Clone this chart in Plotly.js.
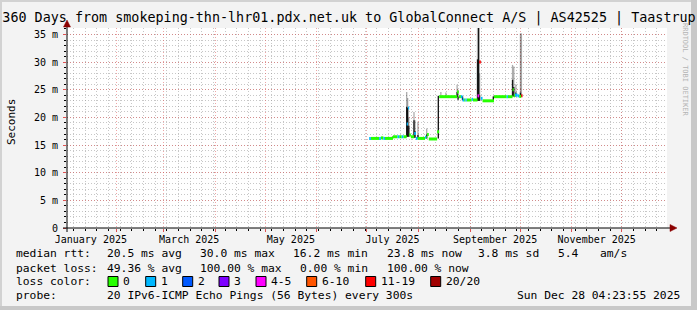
<!DOCTYPE html>
<html>
<head>
<meta charset="utf-8">
<script src="https://cdn.plot.ly/plotly-3.0.1.min.js"></script>
<style>
html,body{margin:0;padding:0;background:#f3f3f3;}
#chart{width:697px;height:310px;}
</style>
</head>
<body>
<div id="chart"></div>
<script>
// ---------------- data ----------------
const titleText = "360 Days from smokeping-thn-lhr01.pdx.net.uk to GlobalConnect A/S | AS42525 | Taastrup";
const rangeStart = "2025-01-02 04:23:55";
const rangeEnd = "2025-12-28 04:23:55";
const monthStarts = ["2025-02-01","2025-03-01","2025-04-01","2025-05-01","2025-06-01","2025-07-01","2025-08-01","2025-09-01","2025-10-01","2025-11-01","2025-12-01"];
const monthLabelDates = ["2025-01-16 12:00","2025-03-16 12:00","2025-05-16 12:00","2025-07-16 12:00","2025-09-16 00:00","2025-11-16 00:00"];
const monthLabels = ["January 2025","March 2025","May 2025","July 2025","September 2025","November 2025"];
const yTickVals = [0,5,10,15,20,25,30,35];
const yTickText = ["0","5 m","10 m","15 m","20 m","25 m","30 m","35 m"];
const yAxisTitle = "Seconds";

// median RTT (ms) and number of lost pings (of 20) per step
const medianDates = ["2025-07-02 12:00","2025-07-03 12:00","2025-07-08 12:00","2025-07-09 12:00","2025-07-11 00:00","2025-07-12 00:00","2025-07-16 18:00","2025-07-19 12:00","2025-07-20 12:00","2025-07-22 00:00","2025-07-23 00:00","2025-07-25 00:00","2025-07-25 18:00","2025-07-26 12:00","2025-07-27 12:00","2025-07-29 12:00","2025-07-30 12:00","2025-07-31 12:00","2025-08-05 00:00","2025-08-05 18:00","2025-08-06 06:00","2025-08-07 06:00","2025-08-12 06:00","2025-08-13 12:00","2025-08-24 06:00","2025-08-25 06:00","2025-08-26 12:00","2025-08-27 12:00","2025-08-28 12:00","2025-08-29 06:00","2025-08-30 00:00","2025-09-02 00:00","2025-09-02 18:00","2025-09-05 12:00","2025-09-06 12:00","2025-09-07 12:00","2025-09-08 12:00","2025-09-15 09:00","2025-09-23 00:00","2025-09-23 18:00","2025-09-26 12:00","2025-09-27 06:00","2025-09-28 00:00","2025-09-29 12:00","2025-09-30 12:00","2025-10-01 18:00","2025-10-02 12:00"];
const medianMs = [16.2,16.2,16.2,16.3,16.2,16.2,16.5,16.5,16.5,16.5,16.5,18.8,21.7,16.8,16.5,17.1,16.2,16.2,16.4,16.4,16.9,16.1,17.4,23.75,24.6,23.75,23.75,23.15,23.15,23.15,23.15,23.3,23.15,23.9,30.0,23.45,23.0,23.75,23.75,23.75,25.0,23.9,24.05,23.9,23.8,23.9,null];
const medianLoss = [1,0,1,0,1,0,0,1,0,1,0,1,1,0,0,1,1,0,1,0,0,0,0,0,0,0,1,1,0,1,0,1,0,4,12,1,0,0,1,0,0,0,1,1,0,12,20];

// smoke: spread of the individual pings (ms)
const smokeDates = ["2025-07-16 12:00","2025-07-25 00:00","2025-07-25 14:00","2025-07-26 06:00","2025-07-29 09:00","2025-07-30 00:00","2025-07-31 18:00","2025-08-06 00:00","2025-08-13 00:00","2025-08-14 12:00","2025-08-17 12:00","2025-08-24 06:00","2025-08-24 20:00","2025-08-27 12:00","2025-09-05 12:00","2025-09-06 04:00","2025-09-06 18:00","2025-09-15 00:00","2025-09-26 12:00","2025-09-27 06:00","2025-09-28 12:00","2025-10-01 06:00","2025-10-01 20:00"];
const smokeLow = [16.2,16.5,16.5,16.5,16.3,16.3,16.2,16.2,16.2,23.7,23.7,23.7,23.2,23.1,23.0,23.0,23.0,23.0,23.8,23.8,23.8,23.8,23.8];
const smokeDarkTop = [16.5,21.9,21.7,18.5,19.5,17.5,16.8,16.9,23.9,23.8,23.8,24.6,23.8,23.8,30.5,36.5,24.0,23.8,26.8,25.5,24.5,24.5,24.0];
const smokeLightTop = [16.6,24.6,23.5,20.0,21.0,19.5,19.2,18.0,23.9,24.6,24.5,25.9,25.0,23.8,36.5,36.5,28.0,23.8,29.5,29.2,26.0,35.2,35.2];

// loss legend
const lossClasses = ["0","1","2","3","4-5","6-10","11-19","20/20"];
const lossColors = ["#26ff00","#00b8ff","#0059ff","#7e00ff","#ff00ff","#ff5500","#ff0000","#a10000"];

// statistics text
const rttStats = ["median rtt:","20.5 ms avg","30.0 ms max","16.2 ms min","23.8 ms now","3.8 ms sd","5.4","am/s"];
const lossStats = ["packet loss:","49.36 % avg","100.00 % max","0.00 % min","100.00 % now"];
const lossColorLabel = "loss color:";
const probeLabel = "probe:";
const probeText = "20 IPv6-ICMP Echo Pings (56 Bytes) every 300s";
const stampText = "Sun Dec 28 04:23:55 2025";
const watermark = "RRDTOOL / TOBI OETIKER";

// ---------------- layout helpers ----------------
const W = 697, H = 310;
const PL = 67, PR = 667, PT = 28, PB = 228;
const px = v => (v - PL) / (PR - PL);
const py = v => (PB - v) / (PB - PT);
const MONO = "DejaVu Sans Mono";
const stepMs = 0.6 * 86400000; // one pixel of time

function lossIndex(n){
  if (n <= 3) return n;
  if (n <= 5) return 4;
  if (n <= 10) return 5;
  if (n <= 19) return 6;
  return 7;
}

const traces = [];
// smoke
traces.push({
  type:'bar', x: smokeDates, base: smokeLow,
  y: smokeLightTop.map((t,i)=>t - smokeLow[i]),
  width: stepMs * 1.3, marker:{color:'rgba(0,0,0,0.33)', line:{width:0}},
  hoverinfo:'skip', showlegend:false
});
traces.push({
  type:'bar', x: smokeDates, base: smokeLow,
  y: smokeDarkTop.map((t,i)=>t - smokeLow[i]),
  width: stepMs * 1.3, marker:{color:'rgba(10,10,10,0.92)', line:{width:0}},
  hoverinfo:'skip', showlegend:false
});
// median segments, coloured by loss
for (let c = 0; c < lossColors.length; c++){
  const xs = [], ys = [];
  for (let i = 0; i < medianDates.length - 1; i++){
    if (medianMs[i] == null) continue;
    if (lossIndex(medianLoss[i]) !== c) continue;
    xs.push(medianDates[i], medianDates[i+1], null);
    ys.push(medianMs[i], medianMs[i], null);
  }
  if (!xs.length) continue;
  traces.push({type:'scatter', mode:'lines', x:xs, y:ys, connectgaps:false,
    line:{color:lossColors[c], width:3}, hoverinfo:'skip', showlegend:false});
}
// carrier for month labels axis
traces.push({type:'scatter', mode:'markers', x: monthLabelDates, y: monthLabelDates.map(()=>null),
  xaxis:'x2', yaxis:'y', hoverinfo:'skip', showlegend:false});

const annotations = [];
const shapes = [];
function txt(x, y, t, opts){
  annotations.push(Object.assign({xref:'paper', yref:'paper', x:px(x), y:py(y), text:t,
    showarrow:false, xanchor:'left', yanchor:'middle',
    font:{family:MONO, size:11.3, color:'#000'}}, opts||{}));
}
const r1x = [16,107,200,293,386.7,478,558,600];
rttStats.forEach((s,i)=>txt(r1x[i]-2, 254, s));
const r2x = [16,107,200,300,386.7];
lossStats.forEach((s,i)=>txt(r2x[i]-2, 268, s));
txt(14, 281.5, lossColorLabel);
const boxX = [108,145.7,182.7,219,256,306.7,365.7,430.7];
lossClasses.forEach((s,i)=>{
  shapes.push({type:'rect', xref:'paper', yref:'paper', x0:px(boxX[i]), x1:px(boxX[i]+10),
    y0:py(286.5), y1:py(276.5), fillcolor:lossColors[i], line:{color:'#000', width:1}});
  txt(boxX[i]+13, 281.5, s);
});
txt(14, 295.5, probeLabel);
txt(105, 295.5, probeText);
txt(682, 295.5, stampText, {xanchor:'right'});
// y axis title
annotations.push({xref:'paper', yref:'paper', x:px(11), y:py(122), text:yAxisTitle, textangle:-90,
  showarrow:false, xanchor:'center', yanchor:'middle', font:{family:MONO, size:11, color:'#000'}});
// watermark
annotations.push({xref:'paper', yref:'paper', x:px(685), y:py(70), text:watermark, textangle:90,
  showarrow:false, xanchor:'center', yanchor:'middle', font:{family:MONO, size:7, color:'#b4b4b4'}});

// frame shading
shapes.push({type:'rect', xref:'paper', yref:'paper', x0:px(0), x1:px(2), y0:py(0), y1:py(H), fillcolor:'#d2d2d2', line:{width:0}, layer:'below'});
shapes.push({type:'rect', xref:'paper', yref:'paper', x0:px(0), x1:px(W), y0:py(0), y1:py(2), fillcolor:'#d2d2d2', line:{width:0}, layer:'below'});
shapes.push({type:'rect', xref:'paper', yref:'paper', x0:px(691), x1:px(W), y0:py(0), y1:py(H), fillcolor:'#c8c8c8', line:{width:0}, layer:'below'});
shapes.push({type:'rect', xref:'paper', yref:'paper', x0:px(0), x1:px(W), y0:py(306), y1:py(H), fillcolor:'#c8c8c8', line:{width:0}, layer:'below'});
// axes with arrows
shapes.push({type:'line', xref:'paper', yref:'paper', x0:px(63), x1:px(672), y0:py(228), y1:py(228), line:{color:'#000', width:1}});
shapes.push({type:'line', xref:'paper', yref:'paper', x0:px(67), x1:px(67), y0:py(232), y1:py(24), line:{color:'#000', width:1}});
shapes.push({type:'path', xref:'paper', yref:'paper',
  path:`M ${px(670)} ${py(224.5)} L ${px(677)} ${py(228)} L ${px(670)} ${py(231.5)} Z`,
  fillcolor:'#8b0000', line:{color:'#8b0000', width:0.5}});
shapes.push({type:'path', xref:'paper', yref:'paper',
  path:`M ${px(63.5)} ${py(27)} L ${px(67)} ${py(20)} L ${px(70.5)} ${py(27)} Z`,
  fillcolor:'#8b0000', line:{color:'#8b0000', width:0.5}});

const MGRID = 'rgba(222,80,80,0.5)';
const GRID = 'rgba(143,143,143,0.5)';

const layout = {
  width: W, height: H,
  margin:{l:PL, r:W-PR, t:PT, b:H-PB, pad:0},
  paper_bgcolor:'#f3f3f3', plot_bgcolor:'#ffffff',
  barmode:'overlay', showlegend:false,
  title:{text:titleText, font:{family:MONO, size:13.4, color:'#000'},
    xref:'container', yref:'container', x:349/W, y:1-17/H, xanchor:'center', yanchor:'middle'},
  xaxis:{type:'date', range:[rangeStart, rangeEnd], tickmode:'array', tickvals:monthStarts,
    showticklabels:false, ticks:'outside', ticklen:3, tickcolor:'#de5050',
    showgrid:true, gridcolor:MGRID, griddash:'1px,2px', gridwidth:1,
    showline:false, zeroline:false, fixedrange:true,
    minor:{tick0:'2025-01-06', dtick:7*86400000, showgrid:true, gridcolor:GRID, griddash:'1px,2px', gridwidth:1,
      ticks:'outside', ticklen:2, tickcolor:'#000'}},
  xaxis2:{type:'date', overlaying:'x', anchor:'y', side:'bottom', range:[rangeStart, rangeEnd],
    tickmode:'array', tickvals:monthLabelDates, ticktext:monthLabels, ticks:'', showgrid:false,
    ticklabelstandoff:4,
    showline:false, zeroline:false, tickfont:{family:MONO, size:10, color:'#000'}, fixedrange:true},
  yaxis:{range:[0, 36.17], tickmode:'array', tickvals:yTickVals, ticktext:yTickText,
    tickfont:{family:MONO, size:10, color:'#000'}, ticks:'outside', ticklen:3, tickcolor:'#de5050',
    ticklabelstandoff:3,
    showgrid:true, gridcolor:MGRID, griddash:'1px,2px', gridwidth:1,
    showline:false, zeroline:false, fixedrange:true,
    minor:{dtick:1, showgrid:true, gridcolor:GRID, griddash:'1px,2px', gridwidth:1,
      ticks:'outside', ticklen:2, tickcolor:'#000'}},
  annotations, shapes
};

Plotly.newPlot('chart', traces, layout, {staticPlot:true, displayModeBar:false});
</script>
</body>
</html>
